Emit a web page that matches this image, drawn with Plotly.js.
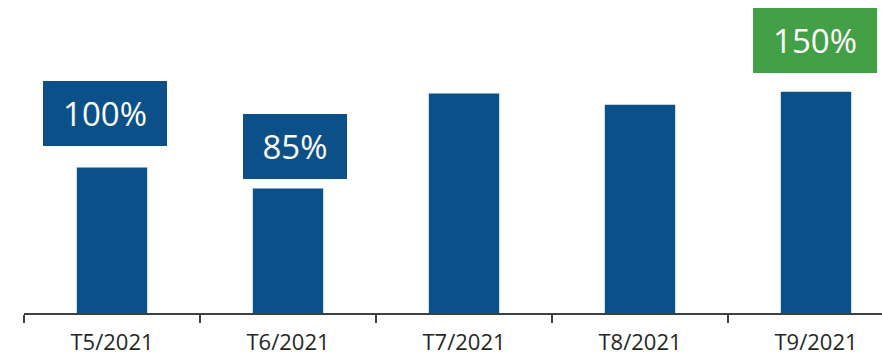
<!DOCTYPE html>
<html>
<head>
<meta charset="utf-8">
<script src="https://cdn.plot.ly/plotly-3.0.1.min.js"></script>
<style>html,body{margin:0;padding:0;background:#fff;}#chart{width:882px;height:357px;}</style>
</head>
<body>
<div id="chart"></div>
<script>
const categories = ["T5/2021", "T6/2021", "T7/2021", "T8/2021", "T9/2021"];
const values = [100, 85.6, 150.7, 143.1, 152];
const labelCats = ["T5/2021", "T6/2021", "T9/2021"];
const labelTexts = ["100%", "85%", "150%"];
const labelColors = ["#0b5089", "#0b5089", "#43a047"];

const boxStyle = {
  "T5/2021": {w: 124, xs: -7, ys: 21},
  "T6/2021": {w: 104, xs: 7, ys: 9},
  "T9/2021": {w: 124, xs: -1, ys: 19}
};

const annotations = labelCats.map((c, i) => {
  const idx = categories.indexOf(c);
  const s = boxStyle[c];
  return {
    x: c, y: values[idx], xref: "x", yref: "y",
    text: labelTexts[i], showarrow: false,
    xanchor: "center", yanchor: "bottom",
    xshift: s.xs, yshift: s.ys,
    width: s.w, height: 65, bgcolor: labelColors[i],
    borderpad: 0, borderwidth: 0,
    font: {family: "Open Sans", size: 33, color: "#ffffff"}
  };
});

Plotly.newPlot("chart", [{
  type: "bar", x: categories, y: values,
  marker: {color: "#0b5089"}, width: 0.4, hoverinfo: "none"
}], {
  width: 882, height: 357,
  margin: {l: 24, r: 0, t: 0, b: 44},
  paper_bgcolor: "#ffffff", plot_bgcolor: "#ffffff",
  showlegend: false,
  xaxis: {
    type: "category", range: [-0.5, 4.375],
    showline: true, linecolor: "#404040", linewidth: 1.5,
    ticks: "outside", ticklen: 8, tickcolor: "#404040", tickwidth: 1.5,
    tickson: "boundaries", showgrid: false, zeroline: false,
    ticklabelstandoff: 9,
    tickfont: {family: "Open Sans", size: 22, color: "#262626"}
  },
  yaxis: {range: [0, 215], visible: false, showgrid: false, zeroline: false},
  annotations: annotations
}, {staticPlot: true});
</script>
</body>
</html>
